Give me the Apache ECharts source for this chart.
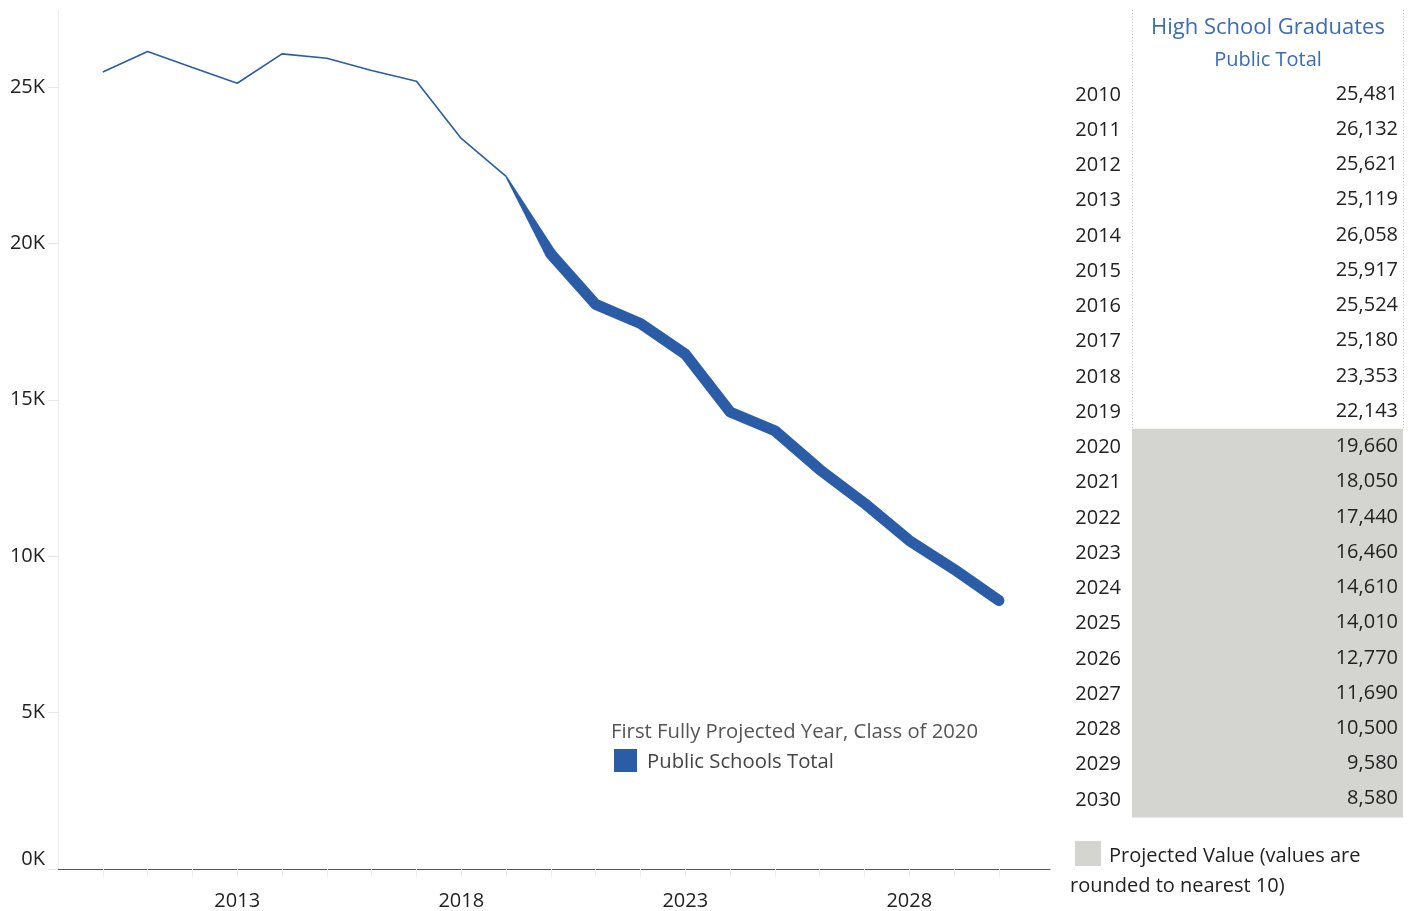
<!DOCTYPE html>
<html>
<head>
<meta charset="utf-8">
<script src="https://cdn.jsdelivr.net/npm/echarts@6/dist/echarts.min.js"></script>
<style>
html,body{margin:0;padding:0;background:#fff;}
#chart{width:1413px;height:911px;}
</style>
</head>
<body>
<div id="chart"></div>
<script>
// ---- data ----
const years = [2010,2011,2012,2013,2014,2015,2016,2017,2018,2019,2020,2021,2022,2023,2024,2025,2026,2027,2028,2029,2030];
const graduates = [25481,26132,25621,25119,26058,25917,25524,25180,23353,22143,19660,18050,17440,16460,14610,14010,12770,11690,10500,9580,8580];
const firstProjectedYear = 2020;
const xTickLabels = [2013, 2018, 2023, 2028];
const yTickValues = [0, 5000, 10000, 15000, 20000, 25000];
const headerTitle = 'High School Graduates';
const headerSub = 'Public Total';
const legendTitle = 'First Fully Projected Year, Class of 2020';
const legendItem = 'Public Schools Total';
const noteLine1 = 'Projected Value (values are';
const noteLine2 = 'rounded to nearest 10)';

// ---- style ----
const BLUE = '#2a5ca8';
const GRAY = '#d4d5d0';
const FONT = '"Open Sans", "Noto Sans", sans-serif';
const TXT = '#222';

const histIdx = years.map((y,i)=>i).filter(i=>years[i] < firstProjectedYear);
const projIdx = years.map((y,i)=>i).filter(i=>years[i] >= firstProjectedYear);
const lastHist = histIdx[histIdx.length-1];

const thinData = histIdx.map(i=>[years[i], graduates[i]]);
const thickData = projIdx.map(i=>[years[i], graduates[i]]);
const taperData = [[years[lastHist], graduates[lastHist], years[projIdx[0]], graduates[projIdx[0]]]];

const fmt = v => v.toLocaleString('en-US');

const chart = echarts.init(document.getElementById('chart'), null, {renderer:'canvas'});

const option = {
  animation: false,
  textStyle: {fontFamily: FONT},
  grid: [
    {left: 58, right: 363, top: 10, bottom: 42},
    {left: 1132, right: 10, top: 77.4, bottom: 93.4}
  ],
  xAxis: [
    {
      type: 'value', gridIndex: 0, min: 2009, max: 2031.14,
      axisLine: {show: true, lineStyle: {color: '#555', width: 1}},
      axisTick: {show: true, length: 8, lineStyle: {color: '#ececec'}, customValues: years},
      axisLabel: {customValues: xTickLabels, color: TXT, fontSize: 20, fontFamily: FONT, margin: 22,
                  formatter: v => String(v)},
      splitLine: {show: false}
    },
    {
      type: 'value', gridIndex: 1, min: 0, max: 1, show: false
    }
  ],
  yAxis: [
    {
      type: 'value', gridIndex: 0, min: 0, max: 27460,
      axisLine: {show: true, lineStyle: {color: '#ececec'}},
      axisTick: {show: true, length: 10, lineStyle: {color: '#e6e6e6'}, customValues: yTickValues},
      axisLabel: {customValues: yTickValues, color: TXT, fontSize: 20, fontFamily: FONT, margin: 13,
                  formatter: v => (v/1000) + 'K', verticalAlignMinLabel: 'bottom'},
      splitLine: {show: false}
    },
    {
      type: 'category', gridIndex: 1, inverse: true, data: years.map(String),
      axisLine: {show: false}, axisTick: {show: false},
      axisLabel: {color: TXT, fontSize: 20, fontFamily: FONT, margin: 11}
    }
  ],
  series: [
    {
      type: 'line', xAxisIndex: 0, yAxisIndex: 0, data: thinData,
      showSymbol: false, symbol: 'none',
      lineStyle: {color: BLUE, width: 1.6}
    },
    {
      type: 'custom', xAxisIndex: 0, yAxisIndex: 0, data: taperData,
      encode: {x: [0, 2], y: [1, 3]},
      renderItem: function (params, api) {
        const p1 = api.coord([api.value(0), api.value(1)]);
        const p2 = api.coord([api.value(2), api.value(3)]);
        const dx = p2[0]-p1[0], dy = p2[1]-p1[1];
        const len = Math.sqrt(dx*dx+dy*dy);
        const nx = -dy/len, ny = dx/len;
        const w1 = 0.8, w2 = 5.6;
        return {
          type: 'polygon',
          shape: {points: [
            [p1[0]+nx*w1, p1[1]+ny*w1],
            [p2[0]+nx*w2, p2[1]+ny*w2],
            [p2[0]-nx*w2, p2[1]-ny*w2],
            [p1[0]-nx*w1, p1[1]-ny*w1]
          ]},
          style: {fill: BLUE}
        };
      }
    },
    {
      type: 'line', xAxisIndex: 0, yAxisIndex: 0, data: thickData,
      showSymbol: false, symbol: 'none',
      lineStyle: {color: BLUE, width: 11, cap: 'round', join: 'round'}
    },
    {
      type: 'bar', xAxisIndex: 1, yAxisIndex: 1,
      barWidth: '106%', barGap: '-100%',
      data: years.map((y,i)=>{
        const proj = y >= firstProjectedYear;
        return {
          value: 1,
          itemStyle: proj ? {color: GRAY} : {color: 'rgba(0,0,0,0)'},
          label: {formatter: fmt(graduates[i])}
        };
      }),
      label: {show: true, position: 'insideRight', distance: 5, color: TXT, fontSize: 20, fontFamily: FONT, offset: [0, -1]},
      silent: true
    }
  ],
  graphic: [
    {type: 'line', shape: {x1: 1132.5, y1: 10, x2: 1132.5, y2: 430}, style: {stroke: '#c8c8c8', lineWidth: 1, lineDash: [1, 2]}},
    {type: 'line', shape: {x1: 1403.5, y1: 10, x2: 1403.5, y2: 430}, style: {stroke: '#c8c8c8', lineWidth: 1, lineDash: [1, 2]}},
    {type: 'text', x: 1268, y: 28, style: {text: headerTitle, font: '22px ' + FONT, fill: '#3b6cb4', textAlign: 'center', textVerticalAlign: 'middle'}},
    {type: 'text', x: 1268, y: 60, style: {text: headerSub, font: '20px ' + FONT, fill: '#3b6cb4', textAlign: 'center', textVerticalAlign: 'middle'}},
    {type: 'text', x: 611, y: 732, style: {text: legendTitle, font: '20.3px ' + FONT, fill: '#555', textAlign: 'left', textVerticalAlign: 'middle'}},
    {type: 'rect', shape: {x: 614, y: 749, width: 23, height: 23}, style: {fill: BLUE}},
    {type: 'text', x: 647, y: 762, style: {text: legendItem, font: '20.3px ' + FONT, fill: '#444', textAlign: 'left', textVerticalAlign: 'middle'}},
    {type: 'rect', shape: {x: 1075, y: 841, width: 26, height: 25}, style: {fill: GRAY}},
    {type: 'text', x: 1109, y: 856, style: {text: noteLine1, font: '20px ' + FONT, fill: TXT, textAlign: 'left', textVerticalAlign: 'middle'}},
    {type: 'text', x: 1070, y: 886, style: {text: noteLine2, font: '20px ' + FONT, fill: TXT, textAlign: 'left', textVerticalAlign: 'middle'}}
  ]
};
chart.setOption(option);
</script>
</body>
</html>
